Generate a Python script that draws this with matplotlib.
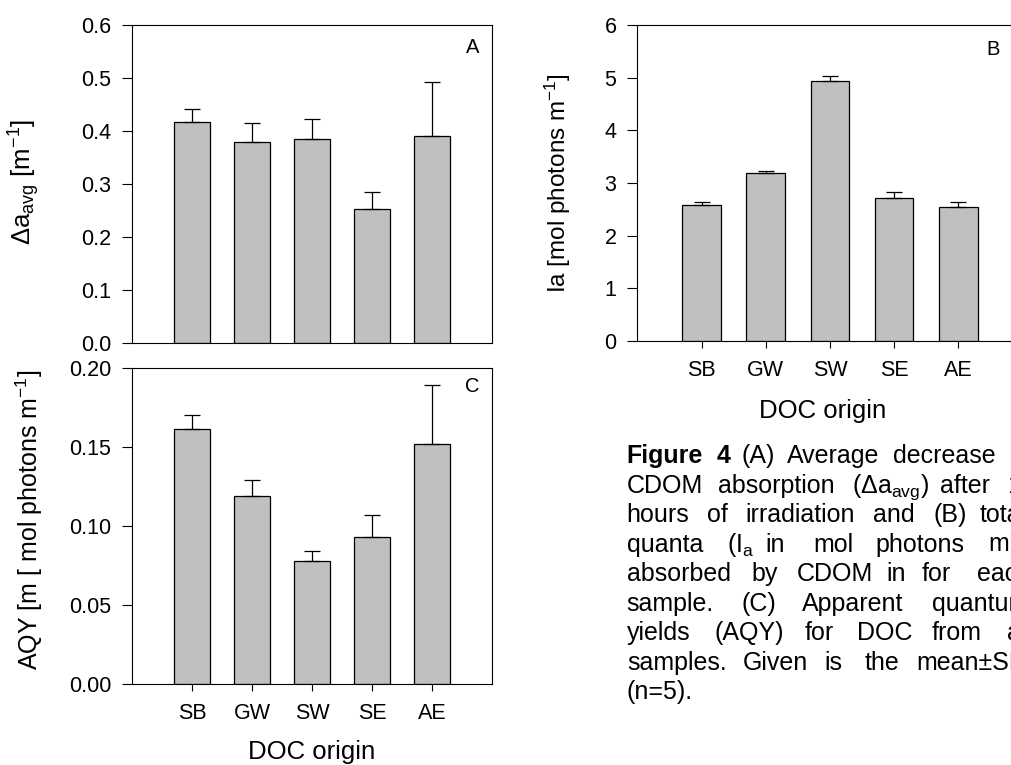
import matplotlib
matplotlib.use("Agg")
import matplotlib.pyplot as plt
from matplotlib.ticker import FormatStrFormatter

plt.rcParams['font.family'] = ['Liberation Sans', 'DejaVu Sans']
plt.rcParams['mathtext.fontset'] = 'custom'
plt.rcParams['mathtext.rm'] = 'Liberation Sans'
plt.rcParams['mathtext.it'] = 'Liberation Sans:italic'
plt.rcParams['mathtext.bf'] = 'Liberation Sans:bold'

# 数据
categories = ['SB', 'GW', 'SW', 'SE', 'AE']
delta_a = [0.417, 0.380, 0.384, 0.253, 0.391]
delta_a_sd = [0.025, 0.036, 0.038, 0.031, 0.102]
ia = [2.58, 3.19, 4.94, 2.72, 2.55]
ia_sd = [0.06, 0.04, 0.09, 0.10, 0.09]
aqy = [0.161, 0.119, 0.078, 0.093, 0.152]
aqy_sd = [0.009, 0.010, 0.006, 0.014, 0.037]

W, H = 1011, 765
fig = plt.figure(figsize=(W / 100, H / 100), dpi=100)


def px_axes(left, right, top, bottom):
    return fig.add_axes([left / W, 1 - bottom / H, (right - left) / W, (bottom - top) / H])


def draw_panel(ax, vals, sds, ylim, yticks, fmt, letter, letter_pos, ylabel, ylabel_size,
               xticks=True):
    x = list(range(1, len(vals) + 1))
    ax.bar(x, vals, width=0.6, color='#c0c0c0', edgecolor='black', linewidth=0.9, zorder=2)
    ax.errorbar(x, vals, yerr=[[0] * len(sds), sds], fmt='none', ecolor='black',
                elinewidth=0.9, capsize=6, capthick=0.9, zorder=3)
    ax.set_xlim(0, 6)
    ax.set_ylim(*ylim)
    ax.set_yticks(yticks)
    ax.yaxis.set_major_formatter(FormatStrFormatter(fmt))
    ax.tick_params(axis='y', direction='out', length=7, width=0.8, labelsize=15.5, pad=8)
    if xticks:
        ax.set_xticks(x)
        ax.set_xticklabels(categories)
        ax.tick_params(axis='x', direction='out', length=5, width=0.8, labelsize=15.5, pad=9)
    else:
        ax.set_xticks([])
    for s in ax.spines.values():
        s.set_linewidth(0.8)
    ax.text(letter_pos[0], letter_pos[1], letter, transform=ax.transAxes, fontsize=14.5,
            ha='center', va='center')
    ax.set_ylabel(ylabel, fontsize=ylabel_size)


axA = px_axes(132, 492, 25, 343)
draw_panel(axA, delta_a, delta_a_sd, (0, 0.6), [0, 0.1, 0.2, 0.3, 0.4, 0.5, 0.6], '%.1f',
           'A', (0.945, 0.928), r'Δa$_{\mathrm{avg}}$ [m$^{-1}$]', 18.5, xticks=False)
axA.yaxis.set_label_coords(-0.25, 0.508)

# B 面板右侧在原图中被裁掉
axB = px_axes(637.3, 1022.5, 25, 341)
draw_panel(axB, ia, ia_sd, (0, 6), [0, 1, 2, 3, 4, 5, 6], '%d',
           'B', (0.923, 0.921), 'Ia [mol photons m$^{-1}$]', 17.5)
axB.set_xlabel('DOC origin', fontsize=18.5)
axB.xaxis.set_label_coords(0.482, -0.184)
axB.yaxis.set_label_coords(-0.167, 0.5)

axC = px_axes(132, 492, 367.7, 684)
draw_panel(axC, aqy, aqy_sd, (0, 0.2), [0, 0.05, 0.10, 0.15, 0.20], '%.2f',
           'C', (0.945, 0.94), 'AQY [m [ mol photons m$^{-1}$]', 18)
axC.set_xlabel('DOC origin', fontsize=18.5)
axC.xaxis.set_label_coords(0.5, -0.177)
axC.yaxis.set_label_coords(-0.242, 0.518)

# 图注 (两端对齐, 按词放置; 右侧同样被裁掉)
caption = [
    [('Figure', 626.7, True), ('4', 716.7, True), ('(A)', 741.7, False),
     ('Average', 786.7, False), ('decrease', 893.3, False)],
    [('CDOM', 626.7, False), ('absorption', 718.3, False), (r'(Δa$_{\mathrm{avg}}$)', 851.7, False),
     ('after', 940, False), ('12', 1006.7, False)],
    [('hours', 626.7, False), ('of', 706.7, False), ('irradiation', 745, False),
     ('and', 873.3, False), ('(B)', 933.3, False), ('total', 980, False)],
    [('quanta', 626.7, False), (r'(I$_{\mathrm{a}}$', 726.7, False), ('in', 765, False),
     ('mol', 813.3, False), ('photons', 875, False), ('m$^{-2}$)', 988.3, False)],
    [('absorbed', 626.7, False), ('by', 751.7, False), ('CDOM', 796.7, False),
     ('in', 886.7, False), ('for', 921.7, False), ('each', 976.7, False)],
    [('sample.', 626.7, False), ('(C)', 741.7, False), ('Apparent', 801.7, False),
     ('quantum', 931.7, False)],
    [('yields', 627, False), ('(AQY)', 714, False), ('for', 805, False),
     ('DOC', 856.7, False), ('from', 931.7, False), ('all', 1006.7, False)],
    [('samples.', 627, False), ('Given', 743, False), ('is', 824, False),
     ('the', 865, False), ('mean±SD', 916, False)],
    [('(n=5).', 627, False)],
]
baseline0 = 463.3
line_gap = 29.5
for i, words in enumerate(caption):
    yb = baseline0 + i * line_gap
    for word, xw, bold in words:
        fig.text(xw / W, 1 - yb / H, word, fontsize=18, ha='left', va='baseline',
                 fontweight='bold' if bold else 'normal')

plt.savefig('out.png', dpi=100)
